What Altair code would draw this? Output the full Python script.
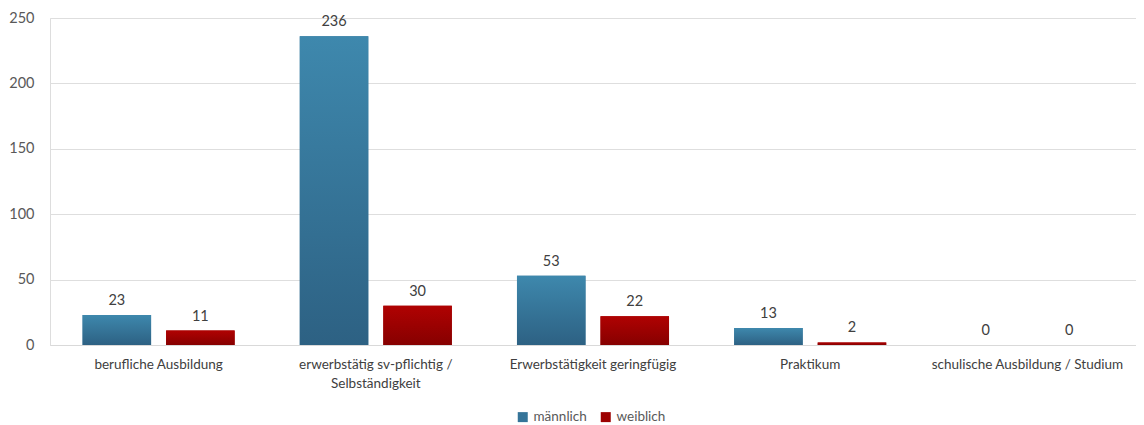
import altair as alt
import pandas as pd

categories = [
    "berufliche Ausbildung",
    "erwerbstätig sv-pflichtig / Selbständigkeit",
    "Erwerbstätigkeit geringfügig",
    "Praktikum",
    "schulische Ausbildung / Studium",
]
series = ["männlich", "weiblich"]
maennlich = [23, 236, 53, 13, 0]
weiblich = [11, 30, 22, 2, 0]

rows = []
for c, m, w in zip(categories, maennlich, weiblich):
    rows.append({"Kategorie": c, "Geschlecht": "männlich", "Wert": m})
    rows.append({"Kategorie": c, "Geschlecht": "weiblich", "Wert": w})
df = pd.DataFrame(rows)

FONT = "Lato"
TXT = "#404040"
FS = 14.5

grad_m = alt.Gradient(gradient="linear", x1=0, x2=0, y1=0, y2=1,
                      stops=[alt.GradientStop(color="#3e88ad", offset=0),
                             alt.GradientStop(color="#2d6183", offset=1)])
grad_w = alt.Gradient(gradient="linear", x1=0, x2=0, y1=0, y2=1,
                      stops=[alt.GradientStop(color="#b00202", offset=0),
                             alt.GradientStop(color="#860000", offset=1)])

label_expr = ("datum.label == 'erwerbstätig sv-pflichtig / Selbständigkeit' ? "
              "['erwerbstätig sv-pflichtig /', 'Selbständigkeit'] : datum.label")

x_enc = alt.X("Kategorie:N", sort=categories,
              scale=alt.Scale(paddingInner=0, paddingOuter=0),
              axis=alt.Axis(title=None, labelAngle=0, labelExpr=label_expr,
                            labelFont=FONT, labelFontSize=13.5, labelColor=TXT,
                            labelPadding=12, ticks=False, domainColor="#d9d9d9",
                            labelLimit=300, labelLineHeight=19))
xo_enc = alt.XOffset("Geschlecht:N", sort=series,
                     scale=alt.Scale(paddingInner=0.18, paddingOuter=0.39))
y_enc = alt.Y("Wert:Q", scale=alt.Scale(domain=[0, 250], nice=False),
              axis=alt.Axis(title=None, values=[0, 50, 100, 150, 200, 250],
                            labelFont=FONT, labelFontSize=FS, labelColor="#595959",
                            labelPadding=16, ticks=False, domain=False,
                            gridColor="#dedede", gridWidth=1))

base = alt.Chart(df)

legend_bars = base.mark_bar().encode(
    x=x_enc, xOffset=xo_enc, y=y_enc,
    color=alt.Color("Geschlecht:N", sort=series,
                    scale=alt.Scale(domain=series, range=["#357499", "#9c0101"]),
                    legend=alt.Legend(title=None, orient="none", direction="horizontal",
                                      legendX=466, legendY=392,
                                      symbolType="square", symbolSize=100,
                                      symbolStrokeWidth=0,
                                      labelFont=FONT, labelFontSize=13.5,
                                      labelColor="#595959", columnPadding=12,
                                      labelOffset=4)),
)

grad_bars = base.mark_bar().encode(
    x=x_enc, xOffset=xo_enc, y=y_enc,
    color=alt.condition("datum.Geschlecht == 'männlich'",
                        alt.value(grad_m), alt.value(grad_w)),
)

labels = base.mark_text(baseline="bottom", dy=-7, font=FONT, fontSize=FS,
                        color=TXT).encode(
    x=x_enc, xOffset=xo_enc, y=y_enc, text=alt.Text("Wert:Q"),
)

chart = alt.layer(legend_bars, grad_bars, labels).properties(
    width=1086, height=327,
    padding={"left": 42, "top": 10, "right": 0, "bottom": 79},
    autosize=alt.AutoSizeParams(type="none"),
).configure_view(stroke=None).configure(background="white")

chart.save("out.html", embed_options={"renderer": "svg", "actions": False})
